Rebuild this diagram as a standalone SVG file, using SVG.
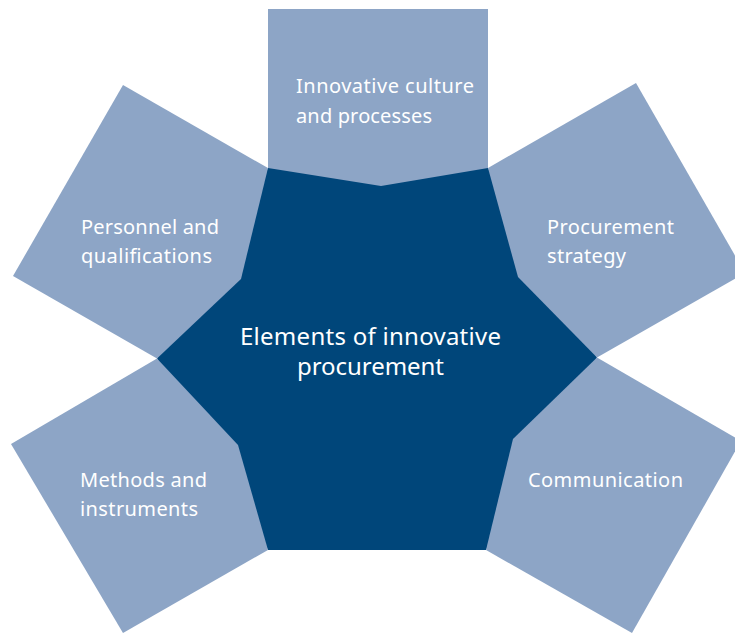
<svg xmlns="http://www.w3.org/2000/svg" width="735" height="633" viewBox="0 0 735 633">
<style>
.outer{fill:#8DA5C6}
.core{fill:#00467A}
.lbl{font-family:"Noto Sans","Open Sans","Liberation Sans",sans-serif;font-size:20px;fill:#FFFFFF}
.ctr{font-family:"Noto Sans","Open Sans","Liberation Sans",sans-serif;font-size:24px;fill:#FFFFFF;text-anchor:middle}
</style>
<rect width="735" height="633" fill="#FFFFFF"/>
<g id="connectors"></g>
<g id="core">
<polygon class="core" points="268,168 488,168 597,357.5 486,550 268,550 157,358.5"/>
<text class="ctr" x="370.5" y="345" textLength="261" lengthAdjust="spacing">Elements of innovative</text>
<text class="ctr" x="370.5" y="375" textLength="147" lengthAdjust="spacing">procurement</text>
</g>
<g id="culture">
<polygon class="outer" points="268,9 488,9 488,168 381,186 268,168"/>
<text class="lbl" x="296" y="93" textLength="178" lengthAdjust="spacing">Innovative culture</text>
<text class="lbl" x="296" y="123" textLength="136" lengthAdjust="spacing">and processes</text>
</g>
<g id="personnel">
<polygon class="outer" points="123,85 268,168 241,279 157,358.5 13,276"/>
<text class="lbl" x="81" y="234" textLength="138" lengthAdjust="spacing">Personnel and</text>
<text class="lbl" x="81" y="263" textLength="131" lengthAdjust="spacing">qualifications</text>
</g>
<g id="strategy">
<polygon class="outer" points="636,83 488,168 518,277 597,357.5 745,273"/>
<text class="lbl" x="547" y="234" textLength="127" lengthAdjust="spacing">Procurement</text>
<text class="lbl" x="547" y="263" textLength="79" lengthAdjust="spacing">strategy</text>
</g>
<g id="methods">
<polygon class="outer" points="157,358.5 238,445 268,550 123,633 11,444"/>
<text class="lbl" x="80" y="487" textLength="127" lengthAdjust="spacing">Methods and</text>
<text class="lbl" x="80" y="516" textLength="118" lengthAdjust="spacing">instruments</text>
</g>
<g id="communication">
<polygon class="outer" points="597,357.5 741,441 632,633 486,550 513,439"/>
<text class="lbl" x="528" y="487" textLength="155" lengthAdjust="spacing">Communication</text>
</g>
</svg>
